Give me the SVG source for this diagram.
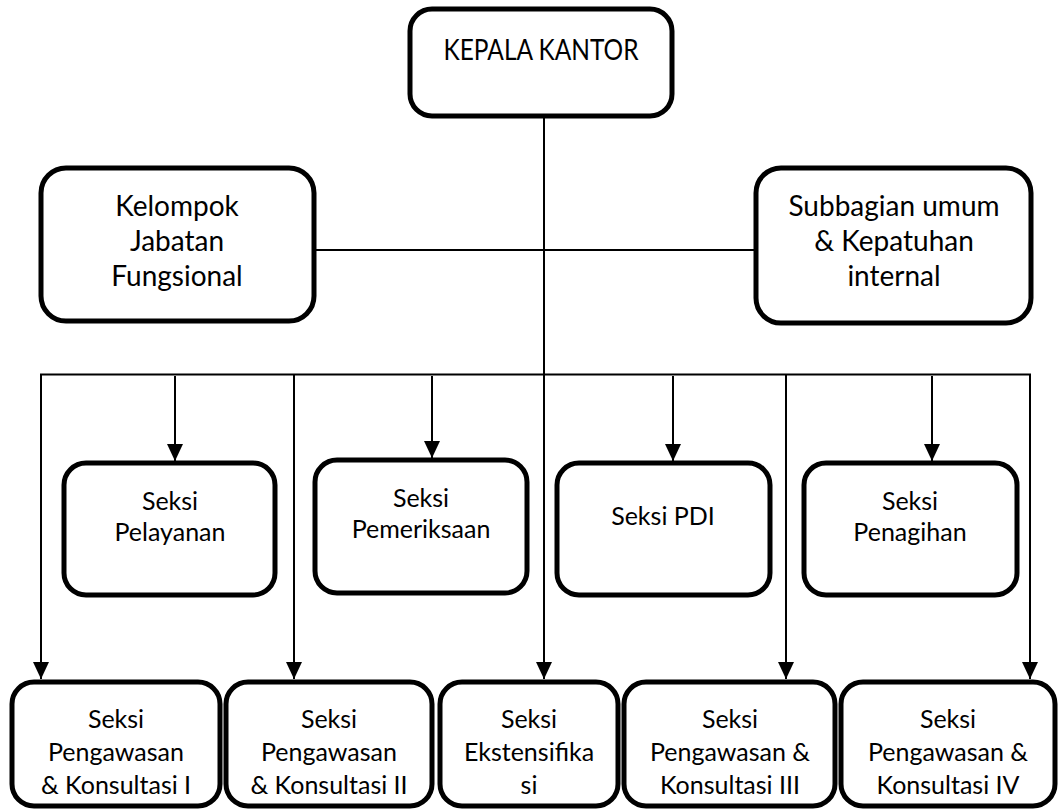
<svg xmlns="http://www.w3.org/2000/svg" width="1060" height="811" viewBox="0 0 1060 811">
<style>
.box{fill:#fff;stroke:#000;stroke-width:5}
.ln{fill:none;stroke:#000;stroke-width:2}
.t{font-family:Lato,"Liberation Sans",sans-serif;fill:#000;text-anchor:middle}
.big{font-size:28px}
.sm{font-size:25px}
</style>
<defs>
<marker id="ah" markerUnits="userSpaceOnUse" markerWidth="18" markerHeight="16" refX="17" refY="8" orient="auto" viewBox="0 0 18 16">
<path d="M0,0 L17,8 L0,16 Z" fill="#000"/>
</marker>
</defs>
<rect width="1060" height="811" fill="#fff"/>
<g id="connectors">
<line class="ln" x1="544" y1="118" x2="544" y2="662" />
<path class="ln" d="M544,662 L544,679" marker-end="url(#ah)"/>
<line class="ln" x1="315" y1="250" x2="755" y2="250"/>
<line class="ln" x1="40" y1="374.5" x2="1031" y2="374.5"/>
<path class="ln" d="M41,374.5 L41,679" marker-end="url(#ah)"/>
<path class="ln" d="M294,374.5 L294,679" marker-end="url(#ah)"/>
<path class="ln" d="M786,374.5 L786,679" marker-end="url(#ah)"/>
<path class="ln" d="M1030,374.5 L1030,679" marker-end="url(#ah)"/>
<path class="ln" d="M175,376 L175,461" marker-end="url(#ah)"/>
<path class="ln" d="M432,376 L432,458" marker-end="url(#ah)"/>
<path class="ln" d="M673,376 L673,461" marker-end="url(#ah)"/>
<path class="ln" d="M932,376 L932,461" marker-end="url(#ah)"/>
</g>
<g id="kepala">
<rect class="box" x="410" y="9" width="262" height="107" rx="22"/>
<text class="t big" x="541" y="60" textLength="195" lengthAdjust="spacingAndGlyphs">KEPALA KANTOR</text>
</g>
<g id="kelompok">
<rect class="box" x="41" y="168" width="273" height="153" rx="25"/>
<text class="t big" x="177" y="216">Kelompok</text>
<text class="t big" x="177" y="251">Jabatan</text>
<text class="t big" x="177" y="286">Fungsional</text>
</g>
<g id="subbagian">
<rect class="box" x="756" y="168" width="275" height="155" rx="25"/>
<text class="t big" x="894" y="216">Subbagian umum</text>
<text class="t big" x="894" y="251">&amp; Kepatuhan</text>
<text class="t big" x="894" y="286">internal</text>
</g>
<g id="pelayanan">
<rect class="box" x="64" y="463" width="211" height="132" rx="22"/>
<text class="t sm" x="170" y="510">Seksi</text>
<text class="t sm" x="170" y="541">Pelayanan</text>
</g>
<g id="pemeriksaan">
<rect class="box" x="315" y="460" width="212" height="133" rx="22"/>
<text class="t sm" x="421" y="507">Seksi</text>
<text class="t sm" x="421" y="538">Pemeriksaan</text>
</g>
<g id="pdi">
<rect class="box" x="557" y="463" width="213" height="132" rx="22"/>
<text class="t sm" x="663" y="525">Seksi PDI</text>
</g>
<g id="penagihan">
<rect class="box" x="804" y="463" width="213" height="132" rx="22"/>
<text class="t sm" x="910" y="510">Seksi</text>
<text class="t sm" x="910" y="541">Penagihan</text>
</g>
<g id="pk1">
<rect class="box" x="12" y="682" width="208" height="124" rx="22"/>
<text class="t sm" x="116" y="728">Seksi</text>
<text class="t sm" x="116" y="761">Pengawasan</text>
<text class="t sm" x="116" y="794">&amp; Konsultasi I</text>
</g>
<g id="pk2">
<rect class="box" x="226" y="682" width="206" height="124" rx="22"/>
<text class="t sm" x="329" y="728">Seksi</text>
<text class="t sm" x="329" y="761">Pengawasan</text>
<text class="t sm" x="329" y="794">&amp; Konsultasi II</text>
</g>
<g id="ekstensifikasi">
<rect class="box" x="440" y="682" width="178" height="124" rx="22"/>
<text class="t sm" x="529" y="728">Seksi</text>
<text class="t sm" x="529" y="761">Ekstensifika</text>
<text class="t sm" x="529" y="794">si</text>
</g>
<g id="pk3">
<rect class="box" x="624" y="682" width="211" height="124" rx="22"/>
<text class="t sm" x="730" y="728">Seksi</text>
<text class="t sm" x="730" y="761">Pengawasan &amp;</text>
<text class="t sm" x="730" y="794">Konsultasi III</text>
</g>
<g id="pk4">
<rect class="box" x="841" y="682" width="214" height="124" rx="22"/>
<text class="t sm" x="948" y="728">Seksi</text>
<text class="t sm" x="948" y="761">Pengawasan &amp;</text>
<text class="t sm" x="948" y="794">Konsultasi IV</text>
</g>
</svg>
